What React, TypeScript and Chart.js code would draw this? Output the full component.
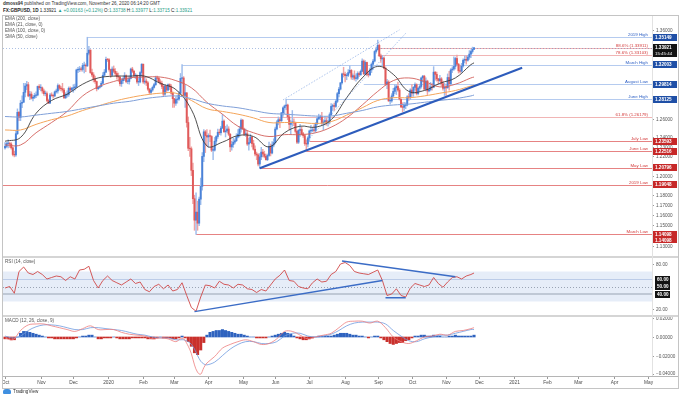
import React, { useEffect, useRef } from "react";
import { Chart, registerables } from "chart.js";
Chart.register(...registerables);

const FONT = "'Liberation Sans', Arial, sans-serif";
const X_MIN = -1.3;
const X_MAX = 416.6;
const AXIS_W = 26;

// ---- Daily candles (bar index 0 = 1 Oct 2019, weekdays only) ----
const firstOpen = 1.229;
const closes = [
  1.2305,1.2335,1.2335,1.2330,1.2290,1.2220,1.2215,1.2440,1.2670,1.2615,1.2770,1.2780,1.2890,1.2960,1.2975,1.2850,1.2870,1.2825,1.2835,1.2855,1.2860,1.2955,1.2940,
  1.2940,1.2905,1.2875,1.2875,1.2800,1.2770,1.2860,1.2855,1.2850,1.2895,1.2905,1.2965,1.2935,1.2930,1.2915,1.2830,1.2860,1.2865,1.2935,1.2915,1.2935,
  1.2940,1.2950,1.3140,1.3145,1.3150,1.3145,1.3190,1.3190,1.3185,1.3330,1.3365,1.3110,1.3085,1.3035,1.3010,1.2930,1.2945,1.2955,1.2990,1.3080,1.3115,1.3260,
  1.3255,1.3145,1.3080,1.3150,1.3125,1.3100,1.3065,1.3060,1.2985,1.3020,1.3040,1.3075,1.3010,1.3010,1.3045,1.3150,1.3125,1.3075,1.3075,1.3005,1.3005,1.3110,1.3205,
  1.3005,1.3015,1.2995,1.2925,1.2890,1.2915,1.2945,1.2975,1.3050,1.3045,1.3005,1.2990,1.2955,1.2870,1.2960,1.2915,1.2975,1.2950,1.2880,1.2820,
  1.2770,1.2810,1.2815,1.2880,1.3045,1.3050,1.2855,1.2885,1.2560,1.2285,1.2280,1.2055,1.1765,1.1550,1.1630,1.1520,1.1760,1.1890,1.2200,1.2460,1.2420,1.2405,
  1.2420,1.2410,1.2265,1.2265,1.2360,1.2410,1.2455,1.2450,1.2500,1.2575,1.2460,1.2470,1.2490,1.2435,1.2300,1.2325,1.2350,1.2365,1.2405,1.2435,1.2490,1.2585,
  1.2490,1.2435,1.2440,1.2330,1.2345,1.2405,1.2335,1.2275,1.2225,1.2215,1.2120,1.2195,1.2245,1.2225,1.2200,1.2165,1.2210,1.2305,1.2235,1.2320,1.2345,
  1.2490,1.2565,1.2590,1.2580,1.2665,1.2720,1.2740,1.2750,1.2620,1.2540,1.2560,1.2565,1.2555,1.2465,1.2350,1.2475,1.2485,1.2440,1.2420,1.2335,1.2330,1.2395,
  1.2470,1.2475,1.2480,1.2475,1.2545,1.2600,1.2615,1.2620,1.2555,1.2565,1.2580,1.2555,1.2565,1.2645,1.2735,1.2745,1.2735,1.2790,1.2875,1.2925,1.2995,1.3095,1.3090,
  1.3075,1.3080,1.3110,1.3135,1.3060,1.3075,1.3045,1.3045,1.3100,1.3085,1.3125,1.3240,1.3095,1.3225,1.3090,1.3085,1.3140,1.3205,1.3240,1.3350,1.3370,
  1.3420,1.3300,1.3265,1.3275,1.3160,1.2980,1.3005,1.2795,1.2795,1.2850,1.2900,1.2940,1.2955,1.2915,1.2815,1.2730,1.2725,1.2745,1.2750,1.2840,1.2830,1.2915,
  1.2880,1.2945,1.2975,1.2875,1.2935,1.2955,1.3050,1.3070,1.2925,1.3015,1.2905,1.2920,1.2950,1.2945,1.3115,1.3090,1.3040,1.3020,1.3040,1.2985,1.2935,1.2945,
  1.2940,1.3055,1.2985,1.3140,1.3150,1.3180,1.3270,1.3205,1.3130,1.3125,1.3185,1.3250,1.3260,1.3250,1.3285,1.3320,1.3350,1.3374,1.3392,
];
const highs = [
  1.2345,1.2350,1.2375,1.2350,1.2345,1.2300,1.2255,1.2465,1.2708,1.2680,1.2800,1.2850,1.2990,1.2990,1.3013,1.3000,1.2900,1.2895,1.2855,1.2880,1.2895,1.2960,1.2975,
  1.2975,1.2950,1.2925,1.2905,1.2895,1.2815,1.2880,1.2885,1.2870,1.2905,1.2925,1.2985,1.2975,1.2955,1.2990,1.2935,1.2885,1.2905,1.2950,1.2950,1.2945,
  1.2975,1.2980,1.3150,1.3170,1.3180,1.3170,1.3215,1.3230,1.3210,1.3514,1.3410,1.3370,1.3150,1.3110,1.3070,1.3015,1.2960,1.2965,1.3010,1.3110,1.3145,1.3285,
  1.3270,1.3270,1.3150,1.3175,1.3185,1.3155,1.3120,1.3105,1.3060,1.3045,1.3055,1.3110,1.3085,1.3040,1.3075,1.3160,1.3170,1.3135,1.3100,1.3085,1.3050,1.3120,1.3210,
  1.3205,1.3060,1.3040,1.3010,1.2935,1.2935,1.2960,1.2990,1.3070,1.3070,1.3060,1.3030,1.3015,1.2970,1.2975,1.2965,1.2985,1.2985,1.2975,1.2895,
  1.2820,1.2840,1.2860,1.2900,1.3100,1.3200,1.3065,1.2970,1.2885,1.2620,1.2400,1.2300,1.2130,1.1800,1.1825,1.1740,1.1780,1.1975,1.2240,1.2485,1.2475,1.2485,
  1.2440,1.2480,1.2420,1.2295,1.2400,1.2420,1.2490,1.2485,1.2520,1.2647,1.2590,1.2520,1.2535,1.2515,1.2440,1.2360,1.2395,1.2385,1.2440,1.2485,1.2520,1.2600,
  1.2595,1.2500,1.2490,1.2470,1.2390,1.2435,1.2410,1.2370,1.2310,1.2245,1.2230,1.2230,1.2295,1.2275,1.2255,1.2225,1.2225,1.2350,1.2330,1.2355,1.2385,
  1.2510,1.2580,1.2620,1.2605,1.2670,1.2730,1.2750,1.2812,1.2760,1.2650,1.2580,1.2690,1.2600,1.2565,1.2480,1.2485,1.2540,1.2510,1.2455,1.2430,1.2375,1.2410,
  1.2480,1.2530,1.2505,1.2535,1.2560,1.2620,1.2650,1.2640,1.2670,1.2590,1.2620,1.2610,1.2585,1.2665,1.2765,1.2760,1.2770,1.2810,1.2890,1.2945,1.3000,1.3105,1.3170,
  1.3115,1.3100,1.3145,1.3185,1.3145,1.3095,1.3130,1.3095,1.3120,1.3115,1.3140,1.3265,1.3255,1.3245,1.3230,1.3125,1.3160,1.3220,1.3260,1.3360,1.3400,
  1.3482,1.3435,1.3320,1.3305,1.3285,1.3175,1.3035,1.3020,1.2835,1.2875,1.2935,1.2975,1.2975,1.3005,1.2935,1.2815,1.2775,1.2780,1.2775,1.2855,1.2875,1.2930,
  1.2975,1.2955,1.2995,1.2985,1.2945,1.2980,1.3060,1.3080,1.3080,1.3050,1.3025,1.2965,1.3000,1.2990,1.3177,1.3120,1.3115,1.3045,1.3080,1.3055,1.3015,1.2990,
  1.2975,1.3095,1.3125,1.3155,1.3175,1.3290,1.3285,1.3310,1.3215,1.3195,1.3215,1.3265,1.3300,1.3300,1.3305,1.3360,1.3370,1.3400,1.3398,
];
const lows = [
  1.2275,1.2290,1.2290,1.2295,1.2275,1.2205,1.2195,1.2200,1.2430,1.2580,1.2580,1.2720,1.2780,1.2840,1.2920,1.2840,1.2810,1.2815,1.2795,1.2820,1.2830,1.2850,1.2920,
  1.2905,1.2880,1.2855,1.2850,1.2785,1.2765,1.2770,1.2845,1.2825,1.2840,1.2880,1.2880,1.2915,1.2905,1.2890,1.2820,1.2820,1.2835,1.2845,1.2895,1.2900,
  1.2890,1.2915,1.2940,1.3110,1.3120,1.3125,1.3125,1.3105,1.3120,1.3180,1.3310,1.3100,1.3065,1.3005,1.2990,1.2905,1.2920,1.2935,1.2950,1.2985,1.3070,1.3110,
  1.3235,1.3125,1.3055,1.3075,1.3110,1.3075,1.3035,1.3010,1.2960,1.2955,1.2990,1.3020,1.2995,1.2985,1.2980,1.3040,1.3110,1.3055,1.3040,1.2990,1.2965,1.2995,1.3070,
  1.2990,1.2980,1.2965,1.2910,1.2875,1.2870,1.2900,1.2935,1.2965,1.3020,1.2995,1.2975,1.2930,1.2850,1.2855,1.2890,1.2905,1.2920,1.2870,1.2725,
  1.2725,1.2745,1.2770,1.2800,1.2875,1.2990,1.2850,1.2725,1.2510,1.2260,1.2200,1.2000,1.1715,1.1450,1.1409,1.1450,1.1495,1.1705,1.1850,1.2145,1.2240,1.2310,
  1.2295,1.2355,1.2250,1.2165,1.2255,1.2320,1.2390,1.2430,1.2425,1.2495,1.2455,1.2405,1.2450,1.2420,1.2250,1.2265,1.2295,1.2330,1.2355,1.2395,1.2405,1.2455,
  1.2485,1.2420,1.2410,1.2315,1.2265,1.2340,1.2300,1.2265,1.2205,1.2165,1.2100,1.2076,1.2165,1.2195,1.2185,1.2160,1.2155,1.2200,1.2205,1.2225,1.2300,
  1.2330,1.2480,1.2535,1.2505,1.2565,1.2625,1.2655,1.2700,1.2590,1.2480,1.2440,1.2520,1.2525,1.2445,1.2335,1.2335,1.2410,1.2425,1.2400,1.2315,1.2252,1.2300,
  1.2360,1.2450,1.2460,1.2460,1.2455,1.2535,1.2590,1.2590,1.2540,1.2480,1.2535,1.2530,1.2520,1.2545,1.2635,1.2690,1.2690,1.2725,1.2775,1.2840,1.2915,1.2980,1.3060,
  1.3005,1.3030,1.3065,1.3100,1.3035,1.3030,1.3025,1.3015,1.3030,1.3065,1.3080,1.3120,1.3090,1.3085,1.3075,1.3060,1.3075,1.3110,1.3145,1.3230,1.3330,
  1.3365,1.3290,1.3225,1.3185,1.3150,1.2965,1.2930,1.2790,1.2760,1.2780,1.2835,1.2875,1.2865,1.2900,1.2805,1.2720,1.2676,1.2690,1.2710,1.2740,1.2800,1.2810,
  1.2845,1.2845,1.2915,1.2860,1.2860,1.2900,1.2935,1.3005,1.2915,1.2905,1.2865,1.2895,1.2905,1.2915,1.2940,1.3025,1.3015,1.2985,1.3005,1.2960,1.2915,1.2855,
  1.2855,1.2935,1.2915,1.2975,1.3110,1.3135,1.3150,1.3195,1.3105,1.3105,1.3115,1.3170,1.3220,1.3205,1.3240,1.3260,1.3280,1.3330,1.3372,
];

// ---- Moving averages ----
const maBars = [0,10,20,30,40,50,60,70,80,90,100,110,120,130,140,150,160,170,180,190,200,210,220,230,240,250,260,270,280,290,300,302];
const ema21 = [1.236,1.240,1.266,1.280,1.287,1.298,1.305,1.307,1.307,1.307,1.299,1.292,1.270,1.231,1.235,1.242,1.241,1.230,1.245,1.252,1.251,1.259,1.283,1.305,1.318,1.309,1.290,1.291,1.299,1.305,1.320,1.322];
const sma50 = [1.232,1.232,1.245,1.256,1.268,1.285,1.295,1.301,1.305,1.306,1.306,1.302,1.294,1.278,1.265,1.252,1.245,1.241,1.243,1.243,1.245,1.251,1.261,1.275,1.290,1.302,1.305,1.301,1.295,1.298,1.305,1.306];
const ema100 = [1.248,1.248,1.254,1.259,1.263,1.269,1.274,1.279,1.283,1.286,1.288,1.288,1.280,1.271,1.268,1.265,1.261,1.256,1.256,1.256,1.255,1.257,1.264,1.272,1.280,1.283,1.283,1.285,1.288,1.291,1.296,1.297];
const ema200 = [1.2625,1.262,1.264,1.266,1.268,1.271,1.274,1.277,1.279,1.282,1.284,1.285,1.282,1.277,1.274,1.272,1.269,1.266,1.265,1.264,1.263,1.263,1.266,1.269,1.273,1.275,1.276,1.278,1.280,1.282,1.285,1.286];

// ---- RSI (14) every 3 bars, last at bar 302 ----
const rsiValues = [
  48,50,41,70,76,68,66,70,66,60,62,64,63,58,63,60,72,73,77,58,48,58,64,58,55,52,56,60,54,56,
  46,43,50,53,47,52,44,46,55,38,22,17,36,52,51,48,57,53,52,48,53,52,47,46,42,46,44,52,60,65,
  72,58,57,50,48,47,55,60,56,57,66,70,80,82,78,70,68,67,66,69,72,58,38,40,47,38,36,48,54,52,
  50,52,62,54,49,56,62,63,60,64,66,68,
];

// ---- MACD (12, 26, close, 9) ----
const macdBars = [0,5,10,15,20,25,30,35,40,45,50,55,60,65,70,75,80,85,90,95,100,105,110,113,115,118,120,122,124,126,128,130,135,140,145,150,155,160,165,170,175,180,185,190,195,200,205,210,215,220,225,230,235,240,245,250,255,260,265,270,275,280,285,290,295,300,302];
const macdLine = [-0.001,-0.003,0.007,0.013,0.014,0.014,0.012,0.010,0.008,0.006,0.009,0.012,0.008,0.008,0.008,0.005,0.003,0.002,0.001,-0.002,-0.001,-0.002,-0.005,-0.002,-0.002,-0.010,-0.018,-0.030,-0.038,-0.040,-0.033,-0.028,-0.021,-0.012,-0.008,-0.005,-0.003,-0.005,-0.008,-0.007,-0.002,0.006,0.006,0.002,-0.002,0.000,0.002,0.004,0.010,0.016,0.017,0.017,0.015,0.017,0.010,0.000,-0.005,-0.007,-0.004,0.000,0.001,0.003,0.002,0.006,0.007,0.009,0.010];
const signalLine = [0.001,-0.001,0.001,0.007,0.011,0.013,0.013,0.012,0.010,0.008,0.008,0.010,0.010,0.009,0.008,0.007,0.005,0.003,0.002,0.000,-0.001,-0.001,-0.003,-0.003,-0.003,-0.005,-0.008,-0.013,-0.020,-0.026,-0.029,-0.030,-0.027,-0.020,-0.013,-0.008,-0.005,-0.005,-0.007,-0.007,-0.005,0.001,0.004,0.004,0.001,0.000,0.001,0.003,0.007,0.012,0.015,0.016,0.016,0.016,0.014,0.007,0.001,-0.004,-0.005,-0.002,0.000,0.002,0.002,0.004,0.006,0.008,0.008];
// histogram every 2 bars
const histValues = [
  -0.002,-0.002,-0.003,-0.003,0.000,0.004,0.006,0.006,0.005,0.004,0.003,0.002,0.001,0.000,-0.001,-0.001,-0.002,-0.002,-0.002,-0.002,
  -0.002,-0.002,-0.002,-0.001,0.000,0.001,0.001,0.002,0.002,0.000,-0.002,-0.002,-0.001,-0.001,-0.001,0.000,-0.001,-0.002,-0.002,-0.002,
  -0.002,-0.001,-0.001,-0.001,-0.001,-0.001,-0.002,-0.002,-0.002,-0.001,0.000,-0.001,-0.001,-0.001,-0.002,-0.002,-0.001,0.001,-0.001,-0.005,
  -0.010,-0.017,-0.019,-0.014,-0.006,0.002,0.005,0.006,0.007,0.007,0.008,0.007,0.006,0.005,0.004,0.003,0.003,0.002,0.001,0.000,
  0.000,-0.001,-0.001,-0.001,-0.001,0.000,0.001,0.002,0.003,0.004,0.005,0.004,0.003,0.001,-0.001,-0.002,-0.003,-0.003,-0.002,-0.001,
  0.000,0.001,0.001,0.001,0.001,0.001,0.002,0.003,0.004,0.004,0.004,0.003,0.002,0.002,0.001,0.001,0.000,-0.001,0.000,0.001,
  0.001,-0.001,-0.003,-0.005,-0.007,-0.008,-0.007,-0.006,-0.006,-0.004,-0.003,-0.001,0.001,0.001,0.002,0.002,0.001,0.001,0.002,0.001,
  0.001,0.000,0.000,0.001,0.001,0.002,0.001,0.001,0.001,0.001,0.001,0.002,
];

// ---- Time axis ----
const monthTickBars = [0,23,44,66,89,109,131,153,174,196,219,240,262,284,305,328,349,369,392,414];
const monthTickLabels = ["Oct","Nov","Dec","2020","Feb","Mar","Apr","May","Jun","Jul","Aug","Sep","Oct","Nov","Dec","2021","Feb","Mar","Apr","May"];

// ---- Price axis ticks & levels ----
const priceTicks = [1.36,1.26,1.24,1.23,1.22,1.20,1.18,1.17,1.16,1.15,1.13];
const lastPrice = 1.33921;
const levelNames = ["2019 High","88.6% (1.33911)","78.6% (1.33103)","March High","August Low","June High","61.8% (1.26179)","July Low","June Low","May Low","2019 Low","March Low"];
const levelPrices = [1.35149,1.33911,1.33103,1.32003,1.29814,1.28125,1.26179,1.23593,1.22516,1.20796,1.19048,1.14098];
const levelStartBars = [53,240,240,114,231,181,164,196,194,164,-2,123];
const levelKinds = ["res","fib","fib","res","res","res","fib","sup","sup","sup","sup","sup"];

// ---- Trend lines (bar, value) ----
const priceTrendBars = [164, 333];
const priceTrendValues = [1.2076, 1.3165];
const channelUpperBars = [179, 254];
const channelUpperValues = [1.2806, 1.3600];
const channelLowerBars = [196, 258];
const channelLowerValues = [1.2391, 1.3560];
const rsiRiseBars = [122, 243];
const rsiRiseValues = [16.5, 58];
const rsiFallBars = [217, 290];
const rsiFallValues = [84, 63];
const rsiFloorBars = [245, 258];
const rsiFloorValues = [35, 35];

const KIND_LINE: Record<string, string> = { res: "rgba(120,160,225,0.55)", fib: "rgba(230,120,120,0.55)", sup: "rgba(222,90,90,0.75)" };
const KIND_TEXT: Record<string, string> = { res: "#2d5fc4", fib: "#d33b3b", sup: "#d33b3b" };
const KIND_BOX: Record<string, string> = { res: "#1f4fa6", sup: "#c62828" };

function box(ctx: CanvasRenderingContext2D, x: number, yc: number, w: number, h: number, bg: string, text: string) {
  ctx.fillStyle = bg;
  ctx.fillRect(x, Math.round(yc - h / 2), w, h);
  ctx.fillStyle = "#fff";
  ctx.font = `bold 4.6px ${FONT}`;
  ctx.textAlign = "left";
  ctx.textBaseline = "middle";
  ctx.fillText(text, x + 2, Math.round(yc - h / 2) + h / 2 + 0.3);
}

function pts(bars: number[], vals: number[]) {
  return bars.map((b, i) => ({ x: b, y: vals[i] }));
}

const xScale = { type: "linear" as const, min: X_MIN, max: X_MAX, display: false, offset: false };

export default function App() {
  const priceRef = useRef<HTMLCanvasElement>(null);
  const rsiRef = useRef<HTMLCanvasElement>(null);
  const macdRef = useRef<HTMLCanvasElement>(null);

  useEffect(() => {
    const charts: Chart[] = [];
    const opens = closes.map((_, i) => (i === 0 ? firstOpen : closes[i - 1]));
    const upCol = (i: number) => closes[i] >= opens[i];

    const pricePlugin = {
      id: "priceDeco",
      beforeDatasetsDraw(chart: any) {
        const { ctx, chartArea: a, scales } = chart;
        const x = scales.x, y = scales.y;
        ctx.save();
        ctx.beginPath();
        ctx.rect(a.left, a.top, a.right - a.left, a.bottom - a.top);
        ctx.clip();
        levelPrices.forEach((p, i) => {
          const py = Math.round(y.getPixelForValue(p)) + 0.5;
          const x0 = Math.max(a.left, x.getPixelForValue(levelStartBars[i]));
          ctx.strokeStyle = KIND_LINE[levelKinds[i]];
          ctx.lineWidth = 1;
          ctx.beginPath();
          ctx.moveTo(x0, py);
          ctx.lineTo(a.right, py);
          ctx.stroke();
        });
        const ly = Math.round(y.getPixelForValue(lastPrice)) + 0.5;
        ctx.strokeStyle = "rgba(90,130,200,0.5)";
        ctx.setLineDash([1, 2]);
        ctx.beginPath();
        ctx.moveTo(a.left, ly);
        ctx.lineTo(a.right, ly);
        ctx.stroke();
        ctx.restore();
      },
      afterDatasetsDraw(chart: any) {
        const { ctx, chartArea: a, scales } = chart;
        const y = scales.y;
        ctx.save();
        ctx.font = `4.4px ${FONT}`;
        ctx.textAlign = "right";
        ctx.textBaseline = "bottom";
        levelPrices.forEach((p, i) => {
          const py = Math.round(y.getPixelForValue(p));
          ctx.fillStyle = KIND_TEXT[levelKinds[i]];
          ctx.fillText(levelNames[i], a.right - 4, py - 0.5);
        });
        ctx.restore();
      },
      afterDraw(chart: any) {
        const { ctx, chartArea: a, scales } = chart;
        const y = scales.y;
        const ax = a.right;
        ctx.save();
        ctx.strokeStyle = "#9a9a9a";
        ctx.fillStyle = "#555";
        ctx.font = `4.6px ${FONT}`;
        ctx.textBaseline = "middle";
        ctx.textAlign = "left";
        priceTicks.forEach((t) => {
          const py = Math.round(y.getPixelForValue(t)) + 0.5;
          ctx.beginPath();
          ctx.moveTo(ax, py);
          ctx.lineTo(ax + 2, py);
          ctx.stroke();
          ctx.fillText(t.toFixed(5), ax + 4, py);
        });
        levelPrices.forEach((p, i) => {
          const bg = KIND_BOX[levelKinds[i]];
          if (!bg) return;
          const py = y.getPixelForValue(p);
          box(ctx, ax + 1, py, AXIS_W - 2, 7, bg, p.toFixed(5));
          if (levelNames[i] === "March Low") box(ctx, ax + 1, py + 6, AXIS_W - 2, 6, bg, p.toFixed(5));
        });
        const ly = y.getPixelForValue(lastPrice);
        ctx.fillStyle = "#131313";
        ctx.fillRect(ax + 1, Math.round(ly - 3.5), AXIS_W - 2, 13);
        ctx.fillStyle = "#fff";
        ctx.font = `bold 4.6px ${FONT}`;
        ctx.textBaseline = "middle";
        ctx.fillText(lastPrice.toFixed(5), ax + 3, Math.round(ly - 3.5) + 3.5);
        ctx.font = `4.4px ${FONT}`;
        ctx.fillText("15:45:44", ax + 3, Math.round(ly - 3.5) + 9.5);
        ctx.restore();
      },
    };

    if (priceRef.current) {
      charts.push(
        new Chart(priceRef.current, {
          type: "bar",
          data: {
            datasets: [
              {
                type: "line",
                data: pts(maBars, ema200),
                borderColor: "#7f9fd8",
                borderWidth: 1,
                pointRadius: 0,
                tension: 0.4,
                order: 1,
              } as any,
              { type: "line", data: pts(maBars, ema21), borderColor: "#3c3c3c", borderWidth: 0.9, pointRadius: 0, tension: 0.4, order: 1 } as any,
              { type: "line", data: pts(maBars, ema100), borderColor: "#f4a55a", borderWidth: 1, pointRadius: 0, tension: 0.4, order: 1 } as any,
              { type: "line", data: pts(maBars, sma50), borderColor: "#d2605a", borderWidth: 0.9, pointRadius: 0, tension: 0.4, order: 1 } as any,
              { type: "line", data: pts(priceTrendBars, priceTrendValues), borderColor: "#2d5cbc", borderWidth: 2, pointRadius: 0, order: 0 } as any,
              { type: "line", data: pts(channelUpperBars, channelUpperValues), borderColor: "rgba(110,150,220,0.7)", borderWidth: 0.8, borderDash: [1.5, 1.5], pointRadius: 0, order: 0 } as any,
              { type: "line", data: pts(channelLowerBars, channelLowerValues), borderColor: "rgba(110,150,220,0.7)", borderWidth: 0.8, borderDash: [1.5, 1.5], pointRadius: 0, order: 0 } as any,
              {
                type: "bar",
                data: closes.map((_, i) => ({ x: i, y: [lows[i], highs[i]] })),
                backgroundColor: closes.map((_, i) => (upCol(i) ? "#9dbcec" : "#f0a3a3")),
                barThickness: 0.8,
                grouped: false,
                order: 3,
              } as any,
              {
                type: "bar",
                data: closes.map((c, i) => ({ x: i, y: [opens[i], c] })),
                backgroundColor: closes.map((_, i) => (upCol(i) ? "#4a82d8" : "#e05a5a")),
                barThickness: 1.3,
                minBarLength: 0.6,
                grouped: false,
                order: 2,
              } as any,
            ],
          },
          options: {
            animation: false,
            responsive: false,
            maintainAspectRatio: false,
            events: [],
            layout: { padding: { right: AXIS_W, left: 0, top: 0, bottom: 0 } },
            plugins: { legend: { display: false }, tooltip: { enabled: false } },
            scales: {
              x: xScale,
              y: { type: "logarithmic", min: 1.12264, max: 1.37627, display: false },
            },
          } as any,
          plugins: [pricePlugin],
        })
      );
    }

    const rsiPlugin = {
      id: "rsiDeco",
      beforeDatasetsDraw(chart: any) {
        const { ctx, chartArea: a, scales } = chart;
        const y = scales.y;
        ctx.save();
        const y70 = y.getPixelForValue(70), y30 = y.getPixelForValue(30);
        ctx.fillStyle = "rgba(200,215,240,0.45)";
        ctx.fillRect(a.left, y70, a.right - a.left, y30 - y70);
        const l60 = Math.round(y.getPixelForValue(60)) + 0.5;
        ctx.strokeStyle = "rgba(170,190,225,0.7)";
        ctx.lineWidth = 1;
        ctx.beginPath(); ctx.moveTo(a.left, l60); ctx.lineTo(a.right, l60); ctx.stroke();
        const l50 = Math.round(y.getPixelForValue(50)) + 0.5;
        ctx.strokeStyle = "#9aa4b4";
        ctx.setLineDash([1, 2]);
        ctx.beginPath(); ctx.moveTo(a.left, l50); ctx.lineTo(a.right, l50); ctx.stroke();
        ctx.setLineDash([]);
        const l40 = y.getPixelForValue(40);
        ctx.strokeStyle = "rgba(165,175,190,0.8)";
        ctx.lineWidth = 1.6;
        ctx.beginPath(); ctx.moveTo(a.left, l40); ctx.lineTo(a.right, l40); ctx.stroke();
        ctx.restore();
      },
      afterDraw(chart: any) {
        const { ctx, chartArea: a, scales } = chart;
        const y = scales.y;
        const ax = a.right;
        ctx.save();
        ctx.strokeStyle = "#9a9a9a";
        ctx.fillStyle = "#555";
        ctx.font = `4.6px ${FONT}`;
        ctx.textBaseline = "middle";
        [80, 20].forEach((t) => {
          const py = Math.round(y.getPixelForValue(t)) + 0.5;
          ctx.beginPath(); ctx.moveTo(ax, py); ctx.lineTo(ax + 2, py); ctx.stroke();
          ctx.fillText(t.toFixed(2), ax + 4, py);
        });
        [60, 50, 40].forEach((t) => box(ctx, ax + 3, y.getPixelForValue(t), 15, 7, "#131313", t.toFixed(2)));
        ctx.restore();
      },
    };

    if (rsiRef.current) {
      charts.push(
        new Chart(rsiRef.current, {
          type: "line",
          data: {
            datasets: [
              {
                data: rsiValues.map((v, i) => ({ x: Math.min(i * 3, 302), y: v })),
                borderColor: "#d04848",
                borderWidth: 0.9,
                pointRadius: 0,
                tension: 0,
                order: 2,
              },
              { data: pts(rsiRiseBars, rsiRiseValues), borderColor: "#3b6cc6", borderWidth: 1.5, pointRadius: 0, order: 1 },
              { data: pts(rsiFallBars, rsiFallValues), borderColor: "#3b6cc6", borderWidth: 1.5, pointRadius: 0, order: 1 },
              { data: pts(rsiFloorBars, rsiFloorValues), borderColor: "#3b6cc6", borderWidth: 1.5, pointRadius: 0, order: 1 },
            ],
          },
          options: {
            animation: false,
            responsive: false,
            maintainAspectRatio: false,
            events: [],
            layout: { padding: { right: AXIS_W } },
            plugins: { legend: { display: false }, tooltip: { enabled: false } },
            scales: { x: xScale, y: { type: "linear", min: 12, max: 88, display: false } },
          } as any,
          plugins: [rsiPlugin],
        })
      );
    }

    const macdPlugin = {
      id: "macdDeco",
      afterDraw(chart: any) {
        const { ctx, chartArea: a, scales } = chart;
        const x = scales.x, y = scales.y;
        const ax = a.right;
        ctx.save();
        ctx.strokeStyle = "#9a9a9a";
        ctx.fillStyle = "#555";
        ctx.font = `4.6px ${FONT}`;
        ctx.textBaseline = "middle";
        ctx.textAlign = "left";
        [0.02, 0, -0.02, -0.04].forEach((t) => {
          const py = Math.round(y.getPixelForValue(t)) + 0.5;
          ctx.beginPath(); ctx.moveTo(ax, py); ctx.lineTo(ax + 2, py); ctx.stroke();
          const s = (t < 0 ? "\u2212" : "") + Math.abs(t).toFixed(5);
          ctx.fillText(s, ax + 4, Math.min(py, a.bottom - 2));
        });
        // time axis
        ctx.strokeStyle = "#b5b5b5";
        ctx.lineWidth = 1;
        ctx.beginPath(); ctx.moveTo(a.left, a.bottom + 0.5); ctx.lineTo(chart.width, a.bottom + 0.5); ctx.stroke();
        ctx.strokeStyle = "#9a9a9a";
        ctx.fillStyle = "#4a4a4a";
        ctx.font = `4.8px ${FONT}`;
        ctx.textAlign = "center";
        monthTickBars.forEach((b, i) => {
          const px = Math.round(x.getPixelForValue(b)) + 0.5;
          ctx.beginPath(); ctx.moveTo(px, a.bottom + 1); ctx.lineTo(px, a.bottom + 3); ctx.stroke();
          ctx.fillText(monthTickLabels[i], px, a.bottom + 6.5);
        });
        ctx.restore();
      },
    };

    if (macdRef.current) {
      charts.push(
        new Chart(macdRef.current, {
          type: "bar",
          data: {
            datasets: [
              {
                type: "bar",
                data: histValues.map((v, i) => ({ x: Math.min(i * 2, 302), y: v })),
                backgroundColor: histValues.map((v) => (v >= 0 ? "#2f63bf" : "#c9302c")),
                barThickness: 2.4,
                grouped: false,
                order: 2,
              } as any,
              { type: "line", data: pts(macdBars, signalLine), borderColor: "#6f9be0", borderWidth: 0.8, pointRadius: 0, tension: 0.35, order: 1 } as any,
              { type: "line", data: pts(macdBars, macdLine), borderColor: "#ee7d7d", borderWidth: 0.8, pointRadius: 0, tension: 0.35, order: 0 } as any,
            ],
          },
          options: {
            animation: false,
            responsive: false,
            maintainAspectRatio: false,
            events: [],
            layout: { padding: { right: AXIS_W, bottom: 12 } },
            plugins: { legend: { display: false }, tooltip: { enabled: false } },
            scales: { x: xScale, y: { type: "linear", min: -0.04194, max: 0.0215, display: false } },
          } as any,
          plugins: [macdPlugin],
        })
      );
    }

    return () => charts.forEach((c) => c.destroy());
  }, []);

  const small: React.CSSProperties = { position: "absolute", fontSize: 4.6, color: "#555", whiteSpace: "nowrap", lineHeight: "6px" };
  const teal = { color: "#1f9e89" };

  return (
    <div style={{ position: "fixed", left: 0, top: 0, width: 680, height: 396, background: "#fff", fontFamily: FONT, overflow: "hidden" }}>
      <div style={{ ...small, left: 3, top: 1, color: "#333" }}>
        <b>dmoss94</b> published on TradingView.com, November 26, 2020 06:14:20 GMT
      </div>
      <div style={{ ...small, left: 3, top: 8, color: "#222" }}>
        <b>FX:GBPUSD, 1D</b> <span>1.33921</span> <span style={teal}>▲ +0.00163 (+0.12%)</span> O:<span style={teal}>1.33738</span> H:<span style={teal}>1.33977</span> L:<span style={teal}>1.33715</span> C:<span style={teal}>1.33921</span>
      </div>
      <div style={{ position: "absolute", left: 2, top: 15, width: 675, height: 372, border: "1px solid #c4c4c4" }} />
      <canvas ref={priceRef} width={675} height={240} style={{ position: "absolute", left: 3, top: 16, width: 675, height: 240 }} />
      <div style={{ position: "absolute", left: 3, top: 256, width: 675, height: 2, background: "#d5d5d5" }} />
      <canvas ref={rsiRef} width={675} height={57} style={{ position: "absolute", left: 3, top: 258, width: 675, height: 57 }} />
      <div style={{ position: "absolute", left: 3, top: 315, width: 675, height: 2, background: "#d5d5d5" }} />
      <canvas ref={macdRef} width={675} height={71} style={{ position: "absolute", left: 3, top: 317, width: 675, height: 71 }} />
      <div style={{ position: "absolute", left: 652, top: 16, width: 1, height: 360, background: "#e2e2e2" }} />
      <div style={{ ...small, left: 5, top: 16 }}>EMA (200, close)</div>
      <div style={{ ...small, left: 5, top: 22 }}>EMA (21, close, 0)</div>
      <div style={{ ...small, left: 5, top: 28 }}>EMA (100, close, 0)</div>
      <div style={{ ...small, left: 5, top: 34 }}>SMA (50, close)</div>
      <div style={{ ...small, left: 5, top: 259 }}>RSI (14, close)</div>
      <div style={{ ...small, left: 5, top: 318 }}>MACD (12, 26, close, 9)</div>
      <div style={{ position: "absolute", left: 3, top: 389, display: "flex", alignItems: "center", gap: 2 }}>
        <div style={{ width: 8, height: 5, background: "#3f8fe0", borderRadius: "3px 3px 1px 1px" }} />
        <span style={{ fontSize: 4.6, color: "#333" }}>TradingView</span>
      </div>
    </div>
  );
}
